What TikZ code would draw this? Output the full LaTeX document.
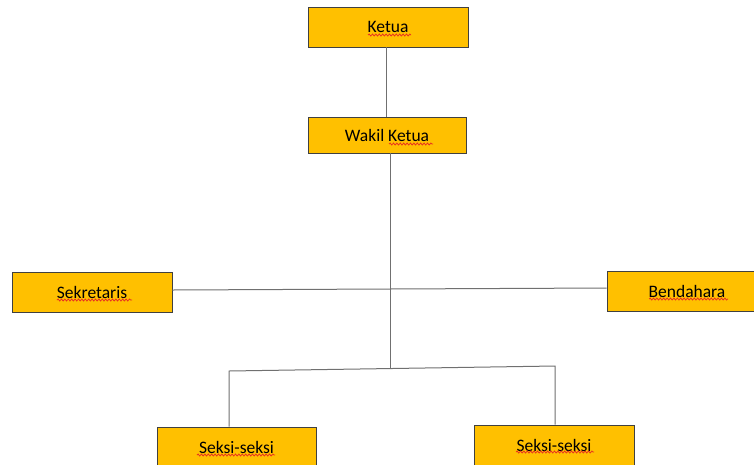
\documentclass[tikz,border=0pt]{standalone}
\usepackage{fontspec}
\setmainfont{Carlito}
\usetikzlibrary{decorations.pathmorphing}
\definecolor{boxfill}{HTML}{FFC000}
\definecolor{boxline}{HTML}{404040}
\definecolor{conn}{HTML}{707070}
\definecolor{spell}{HTML}{E83020}
\tikzset{
  orgbox/.style={draw=boxline, line width=0.9pt, fill=boxfill, minimum width=160pt, minimum height=40pt, inner sep=0pt, font=\fontsize{17.5}{20}\selectfont},
  link/.style={draw=conn, line width=1pt},
  squiggle/.style={draw=spell, line width=0.75pt, decorate, decoration={snake, amplitude=1pt, segment length=3.4pt}}
}
\begin{document}
\begin{tikzpicture}[x=1pt,y=-1pt]
\clip (0,0) rectangle (754,464);
\fill[white] (0,0) rectangle (754,464);
\node[orgbox] (k) at (388,27) {Ketua};
\node[orgbox, minimum width=158pt, minimum height=36pt] (w) at (387,135) {Wakil Ketua};
\node[orgbox] (s) at (92,292) {Sekretaris};
\node[orgbox] (b) at (687,291) {Bendahara};
\node[orgbox, minimum width=159pt] (s1) at (236.5,447) {Seksi-seksi};
\node[orgbox] (s2) at (554,445) {Seksi-seksi};
\coordinate (kx) at (386,0);
\coordinate (j) at (390,369);
\coordinate (l) at (229,371);
\coordinate (r) at (555,366);
\draw[link] (k.south -| kx) -- (w.north -| kx);
\draw[link] (w.south -| j) -- (j);
\draw[link] ([yshift=2pt]s.east) -- ([yshift=3pt]b.west);
\draw[link] (s1.north -| l) -- (l) -- (r) -- (s2.north -| r);
% spell-check underlines
\draw[squiggle] (368,35) -- (411,35);
\draw[squiggle] (389,144) -- (433,144);
\draw[squiggle] (57,300) -- (132,300);
\draw[squiggle] (649,299) -- (728,299);
\draw[squiggle] (197,455) -- (275,455);
\draw[squiggle] (516,452) -- (594,452);
\end{tikzpicture}
\end{document}
